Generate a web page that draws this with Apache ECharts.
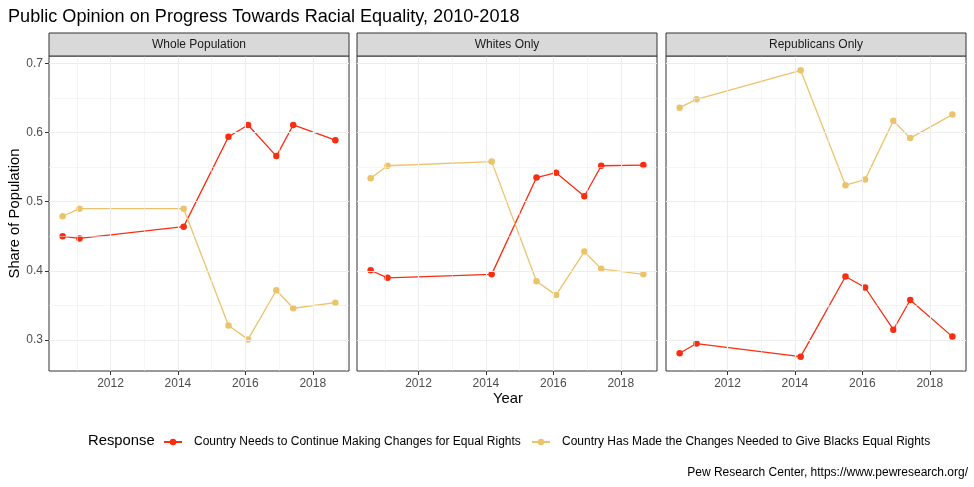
<!DOCTYPE html>
<html>
<head>
<meta charset="utf-8">
<script src="https://cdn.jsdelivr.net/npm/echarts@6/dist/echarts.min.js"></script>
<style>
html,body{margin:0;padding:0;background:#fff;}
#chart{width:974px;height:487px;}
</style>
</head>
<body>
<div id="chart"></div>
<script>
// ---- data ----
const panels = ['Whole Population', 'Whites Only', 'Republicans Only'];
const responses = ['Country Needs to Continue Making Changes for Equal Rights',
                   'Country Has Made the Changes Needed to Give Blacks Equal Rights'];
const years = [2010.58, 2011.08, 2014.17, 2015.5, 2016.08, 2016.92, 2017.42, 2018.67];
const wholeContinue = [0.450, 0.447, 0.464, 0.594, 0.611, 0.566, 0.611, 0.589];
const wholeMade     = [0.479, 0.490, 0.490, 0.321, 0.301, 0.372, 0.346, 0.354];
const whitesContinue = [0.401, 0.390, 0.395, 0.535, 0.542, 0.508, 0.552, 0.553];
const whitesMade     = [0.534, 0.552, 0.558, 0.385, 0.365, 0.428, 0.403, 0.395];
const repContinue = [0.281, 0.295, 0.276, 0.392, 0.376, 0.315, 0.358, 0.305];
const repMade     = [0.636, 0.648, 0.690, 0.524, 0.532, 0.617, 0.592, 0.626];
const xTicks = [2012, 2014, 2016, 2018];
const xMinor = [2011, 2013, 2015, 2017, 2019];
const yTicks = [0.3, 0.4, 0.5, 0.6, 0.7];
const yMinor = [0.35, 0.45, 0.55, 0.65];

const panelData = [[wholeContinue, wholeMade], [whitesContinue, whitesMade], [repContinue, repMade]];

// ---- scales (ggplot 5% expansion, fixed scales) ----
const allY = [].concat(wholeContinue, wholeMade, whitesContinue, whitesMade, repContinue, repMade);
const yLo = Math.min(...allY), yHi = Math.max(...allY);
const yMin = yLo - 0.05 * (yHi - yLo), yMax = yHi + 0.05 * (yHi - yLo);
const xLo = Math.min(...years), xHi = Math.max(...years);
const xMin = xLo - 0.05 * (xHi - xLo), xMax = xHi + 0.05 * (xHi - xLo);

const colors = ['#F92D10', '#EBC36A'];
const font = 'Liberation Sans, Arial, Helvetica, sans-serif';

const gridLefts = [49, 357, 666];
const gridW = 300, gridTop = 56, gridH = 315;

const grids = [], xAxes = [], yAxes = [], series = [], graphics = [];
panels.forEach((p, i) => {
  grids.push({left: gridLefts[i], top: gridTop, width: gridW, height: gridH,
    show: true, borderColor: '#333333', borderWidth: 1, backgroundColor: 'transparent', containLabel: false});
  xAxes.push({type: 'value', gridIndex: i, min: xMin, max: xMax,
    axisLine: {show: false},
    axisTick: {show: true, customValues: xTicks, length: 4, lineStyle: {color: '#333333', width: 1}},
    axisLabel: {show: true, customValues: xTicks, color: '#4D4D4D', fontSize: 12, fontFamily: font, margin: 7,
      formatter: v => String(Math.round(v))},
    splitLine: {show: false}});
  yAxes.push({type: 'value', gridIndex: i, min: yMin, max: yMax,
    axisLine: {show: false},
    axisTick: {show: i === 0, customValues: yTicks, length: 4, lineStyle: {color: '#333333', width: 1}},
    axisLabel: {show: i === 0, customValues: yTicks, color: '#4D4D4D', fontSize: 12, fontFamily: font, margin: 6,
      formatter: v => v.toFixed(1)},
    splitLine: {show: false}});
  // gridlines through the axes' scales
  const mk = (arr, key, w) => arr.map(v => ({[key]: v, lineStyle: {color: '#EDEDED', width: w, type: 'solid'}}));
  series.push({type: 'line', xAxisIndex: i, yAxisIndex: i, data: [], silent: true, z: 1,
    markLine: {silent: true, symbol: 'none', label: {show: false}, animation: false,
      data: [].concat(mk(xMinor, 'xAxis', 0.55), mk(yMinor, 'yAxis', 0.55), mk(xTicks, 'xAxis', 1.1), mk(yTicks, 'yAxis', 1.1))}});
  panelData[i].forEach((vals, k) => {
    series.push({type: 'line', name: responses[k], xAxisIndex: i, yAxisIndex: i, z: 3,
      data: years.map((y, j) => [y, vals[j]]),
      symbol: 'circle', symbolSize: 6.5, showSymbol: true,
      lineStyle: {color: colors[k], width: 1.3}, itemStyle: {color: colors[k]},
      emphasis: {disabled: true}, animation: false});
  });
  // facet strip
  graphics.push({type: 'rect', shape: {x: gridLefts[i], y: 33, width: gridW, height: 23},
    style: {fill: '#D9D9D9', stroke: '#333333', lineWidth: 1}, z: 10});
  graphics.push({type: 'text', x: gridLefts[i] + gridW / 2, y: 44.5,
    style: {text: p, fill: '#1A1A1A', font: '12px ' + font, textAlign: 'center', textVerticalAlign: 'middle'}, z: 11});
});

graphics.push({type: 'text', x: 15, y: 213.5, rotation: Math.PI / 2,
  style: {text: 'Share of Population', fill: '#000', font: '14.8px ' + font, textAlign: 'center', textVerticalAlign: 'middle'}});
graphics.push({type: 'text', x: 508, y: 399,
  style: {text: 'Year', fill: '#000', font: '14.8px ' + font, textAlign: 'center', textVerticalAlign: 'middle'}});
graphics.push({type: 'text', x: 88, y: 441,
  style: {text: 'Response', fill: '#000', font: '14.8px ' + font, textAlign: 'left', textVerticalAlign: 'middle'}});
graphics.push({type: 'text', x: 968, y: 473,
  style: {text: 'Pew Research Center, https://www.pewresearch.org/', fill: '#000', font: '12px ' + font, textAlign: 'right', textVerticalAlign: 'middle'}});

const legendBase = {top: 436, padding: 0, itemWidth: 18, itemHeight: 8, itemGap: 10,
  textStyle: {color: '#000', fontSize: 12, fontFamily: font, padding: [0, 0, 0, 7]},
  selectedMode: false};

const option = {
  backgroundColor: '#fff',
  animation: false,
  title: {text: 'Public Opinion on Progress Towards Racial Equality, 2010-2018', left: 3, top: 3,
    textStyle: {color: '#000', fontSize: 18.1, fontWeight: 'normal', fontFamily: font}},
  legend: [
    Object.assign({}, legendBase, {left: 163, data: [responses[0]]}),
    Object.assign({}, legendBase, {left: 531, data: [responses[1]]})
  ],
  grid: grids, xAxis: xAxes, yAxis: yAxes, series: series, graphic: graphics
};

const chart = echarts.init(document.getElementById('chart'), null, {renderer: 'canvas'});
chart.setOption(option);
</script>
</body>
</html>
